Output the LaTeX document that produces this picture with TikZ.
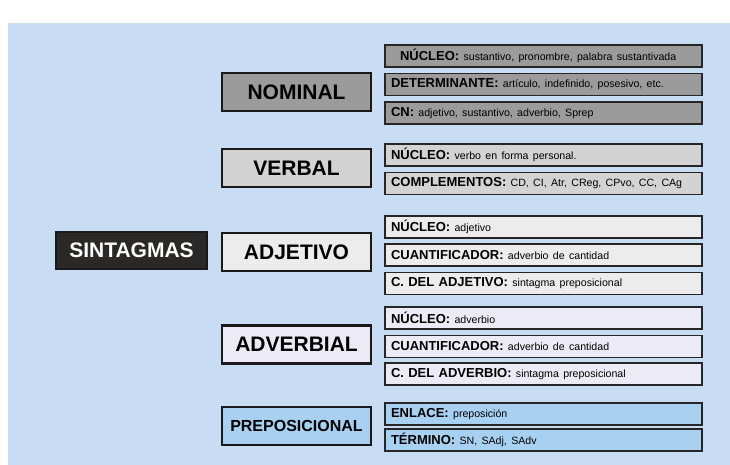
\documentclass[tikz,border=0pt]{standalone}
\usepackage{fontspec}
\setmainfont{Liberation Sans}
\usetikzlibrary{positioning}
\definecolor{fondo}{HTML}{C8DDF3}
\definecolor{raiz}{HTML}{2B2828}
\definecolor{gnom}{HTML}{9B9B9B}
\definecolor{gverb}{HTML}{D3D3D3}
\definecolor{gadj}{HTML}{ECECEC}
\definecolor{gadv}{HTML}{ECEBF5}
\definecolor{gprep}{HTML}{A8D0F1}
\tikzset{
  grupo/.style={draw=black!90, line width=2.6pt, minimum width=149pt,
    minimum height=38pt, inner sep=0pt, font=\fontsize{21}{24}\selectfont\bfseries},
  rasgo/.style={draw=black!85, line width=1.8pt, minimum width=317pt,
    minimum height=22pt, text width=305pt, inner xsep=6pt, inner ysep=0pt,
    align=left, font=\fontsize{13}{15}\selectfont}
}
\newcommand{\campo}[2]{\textbf{#1}\ {\fontsize{10.6}{12}\selectfont #2}}
\begin{document}
\begin{tikzpicture}[x=1pt,y=-1pt]

\fill[white] (0,0) rectangle (730,465);
\fill[fondo] (8,23) rectangle (730,465);

\node[grupo,fill=raiz,text=white,minimum width=151pt,minimum height=37pt] (sint) at (131.5,250.5) {SINTAGMAS};

% grupos
\node[grupo,fill=gnom] (nom) at (296.5,92) {NOMINAL};
\node[grupo,fill=gverb] (verb) at (296.5,168) {VERBAL};
\node[grupo,fill=gadj] (adj) at (296.5,252) {ADJETIVO};
\node[grupo,fill=gadv] (adv) at (296.5,344.5) {ADVERBIAL};
\node[grupo,fill=gprep,font=\fontsize{16}{19}\selectfont\bfseries] (prep) at (296.5,426) {PREPOSICIONAL};

% nominal
\node[rasgo,fill=gnom] (nom1) at (543.5,56) {\hspace*{9pt}\campo{NÚCLEO:}{sustantivo, pronombre, palabra sustantivada}};
\node[rasgo,fill=gnom] (nom2) at (543.5,84.5) {\campo{DETERMINANTE:}{artículo, indefinido, posesivo, etc.}};
\node[rasgo,fill=gnom] (nom3) at (543.5,113) {\campo{CN:}{adjetivo, sustantivo, adverbio, Sprep}};

% verbal
\node[rasgo,fill=gverb] (verb1) at (543.5,155) {\campo{NÚCLEO:}{verbo en forma personal.}};
\node[rasgo,fill=gverb] (verb2) at (543.5,183.5) {\campo{COMPLEMENTOS:}{CD, CI, Atr, CReg, CPvo, CC, CAg}};

% adjetivo
\node[rasgo,fill=gadj] (adj1) at (543.5,227) {\campo{NÚCLEO:}{adjetivo}};
\node[rasgo,fill=gadj] (adj2) at (543.5,255) {\campo{CUANTIFICADOR:}{adverbio de cantidad}};
\node[rasgo,fill=gadj] (adj3) at (543.5,283.5) {\campo{C. DEL ADJETIVO:}{sintagma preposicional}};

% adverbial
\node[rasgo,fill=gadv] (adv1) at (543.5,318) {\campo{NÚCLEO:}{adverbio}};
\node[rasgo,fill=gadv] (adv2) at (543.5,346.5) {\campo{CUANTIFICADOR:}{adverbio de cantidad}};
\node[rasgo,fill=gadv] (adv3) at (543.5,374) {\campo{C. DEL ADVERBIO:}{sintagma preposicional}};

% preposicional
\node[rasgo,fill=gprep] (prep1) at (543.5,414) {\campo{ENLACE:}{preposición}};
\node[rasgo,fill=gprep] (prep2) at (543.5,440) {\campo{TÉRMINO:}{SN, SAdj, SAdv}};

\end{tikzpicture}
\end{document}
